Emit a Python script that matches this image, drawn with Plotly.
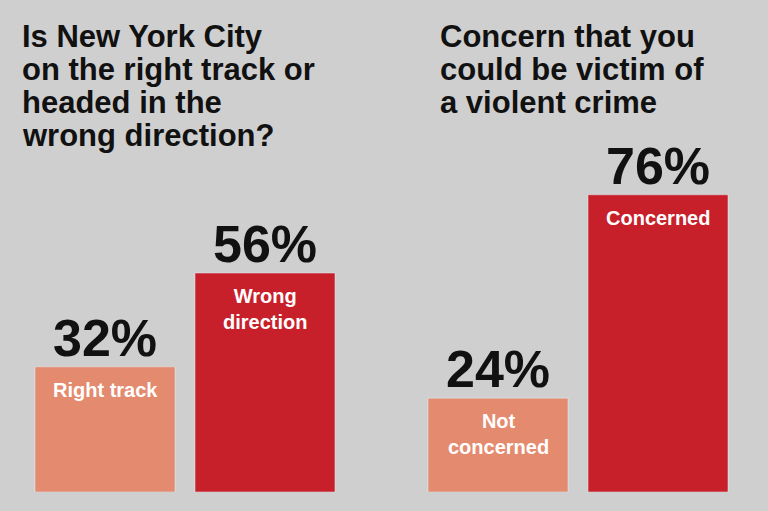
import plotly.graph_objects as go

left_cats = ["Right track", "Wrong direction"]
left_vals = [32, 56]
left_labels = ["Right track", "Wrong<br>direction"]
right_cats = ["Not concerned", "Concerned"]
right_vals = [24, 76]
right_labels = ["Not<br>concerned", "Concerned"]
colors = ["#e48a6e", "#c8202a"]
left_title = ["Is New York City", "on the right track or", "headed in the", "wrong direction?"]
right_title = ["Concern that you", "could be victim of", "a violent crime"]

fig = go.Figure()
fig.add_bar(x=left_cats, y=left_vals, marker_color=colors, xaxis="x", yaxis="y", hoverinfo="skip")
fig.add_bar(x=right_cats, y=right_vals, marker_color=colors, xaxis="x2", yaxis="y2", hoverinfo="skip")

F = "Liberation Sans"
ann = []
for xa, ya, cats, vals, labs in [("x", "y", left_cats, left_vals, left_labels),
                                 ("x2", "y2", right_cats, right_vals, right_labels)]:
    for c, v, l in zip(cats, vals, labs):
        ann.append(dict(x=c, y=v, xref=xa, yref=ya, text=f"<b>{v}%</b>", showarrow=False,
                        yanchor="bottom", yshift=-2, font=dict(size=52, color="#111", family=F)))
        ann.append(dict(x=c, y=v, xref=xa, yref=ya, text=f"<b>{l}</b>", showarrow=False,
                        yanchor="top", yshift=-10, font=dict(size=20, color="white", family=F)))

for x0, lines in [(20, left_title), (438, right_title)]:
    for i, t in enumerate(lines):
        ann.append(dict(x=x0/768, y=1-(18+34*i)/511, xref="paper", yref="paper", xanchor="left", yanchor="top",
                        showarrow=False, text=f"<b>{t}</b>", font=dict(size=31, color="#111", family=F)))

fig.update_layout(
    width=768, height=511, margin=dict(l=0, r=0, t=0, b=19),
    paper_bgcolor="#cfcfcf", plot_bgcolor="rgba(0,0,0,0)",
    showlegend=False, bargap=0.125, annotations=ann,
    xaxis=dict(domain=[25/768, 345/768], visible=False),
    xaxis2=dict(domain=[418/768, 738/768], visible=False),
    yaxis=dict(range=[0, 125.8], visible=False),
    yaxis2=dict(range=[0, 125.8], visible=False, anchor="x2"),
)
fig.write_html("out.html", config={"displayModeBar": False}, post_script="document.body.style.margin='0';")
